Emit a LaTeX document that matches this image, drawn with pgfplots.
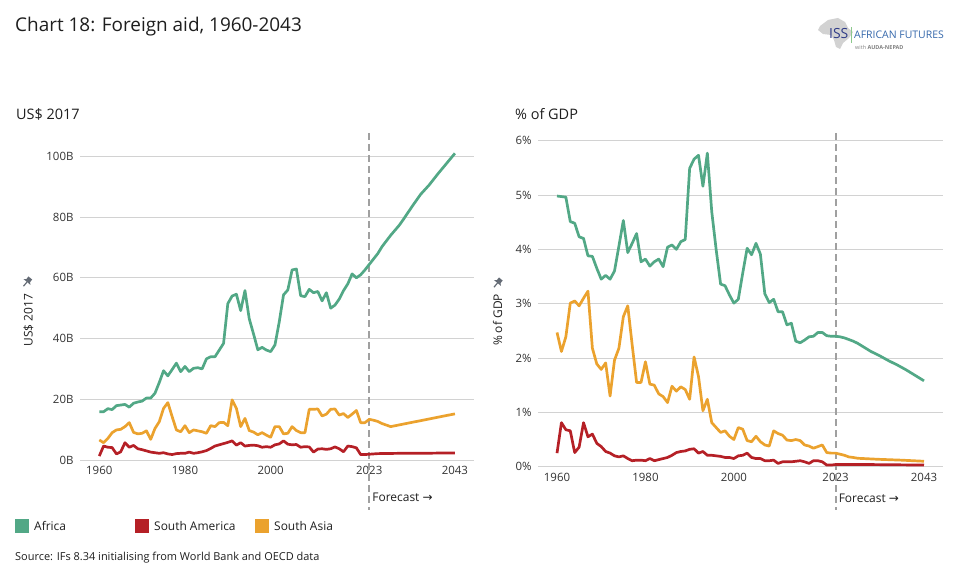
\documentclass[border=0pt]{standalone}
\usepackage{fontspec}
\setmainfont{Open Sans}
\newfontfamily\symfont{DejaVu Sans}
\usepackage{pgfplots}
\pgfplotsset{compat=1.18}
\definecolor{afr}{HTML}{52A886}
\definecolor{sam}{HTML}{B52026}
\definecolor{sas}{HTML}{EBA22E}
\definecolor{gridc}{HTML}{D2D2D2}
\definecolor{txt}{HTML}{333333}
\definecolor{ttl}{HTML}{1E1E1E}
\definecolor{dashc}{HTML}{A0A0A0}
\definecolor{pinc}{HTML}{646B75}
\definecolor{issblue}{RGB}{46,58,135}
\definecolor{afblue}{RGB}{51,102,170}
\definecolor{logogreen}{RGB}{140,200,140}
\pgfplotsset{
  base/.style={
    scale only axis, clip=false,
    axis line style={draw=none},
    ymajorgrids, major grid style={gridc, line width=0.9bp},
    tick style={draw=none}, major tick length=0pt,
    /pgf/number format/assume math mode=true,
    ticklabel style={font=\fontsize{11.5}{13}\selectfont, text=txt},
    yticklabel style={xshift=-3bp},
    xticklabel style={yshift=-3bp},
    xtick={1960,1980,2000,2023,2043},
    xticklabels={1960,1980,2000,2023,2043},
    every axis plot/.append style={line width=2.7bp, line join=round, no markers},
  }
}
\begin{document}
\begin{tikzpicture}
\path[use as bounding box] (0,0) rectangle (955bp,584bp);

% ---------------- left axis ----------------
\begin{axis}[base, at={(80bp,124bp)}, anchor=south west,
  width=394bp, height=327bp,
  xmin=1955.5, xmax=2047.45, ymin=0, ymax=107.7,
  ytick={0,20,40,60,80,100}, yticklabels={0B,20B,40B,60B,80B,100B}]
\draw[dashc, line width=1.9bp, dash pattern=on 7bp off 4bp] (axis cs:2023,107.7) -- (axis cs:2023,-16.5);
\node[anchor=west, font=\fontsize{12}{14}\selectfont, text=ttl, inner sep=0pt] at ([xshift=3bp]axis cs:2023,-12.4) {Forecast {\symfont\fontsize{12}{14}\selectfont →}};
\addplot[sam] table {
1960 1.3
1961 4.6
1962 4.2
1963 4.1
1964 2.0
1965 2.7
1966 5.7
1967 4.2
1968 4.8
1969 3.7
1970 3.4
1971 3.0
1972 2.6
1973 2.4
1974 2.2
1975 2.4
1976 2.0
1977 1.8
1978 2.1
1979 2.2
1980 2.2
1981 2.6
1982 2.2
1983 2.4
1984 2.7
1985 3.1
1986 3.8
1987 4.6
1988 5.0
1989 5.4
1990 5.8
1991 6.3
1992 4.9
1993 5.7
1994 4.6
1995 4.8
1996 4.9
1997 4.7
1998 4.2
1999 4.4
2000 4.2
2001 5.0
2002 5.3
2003 6.3
2004 5.2
2005 5.0
2006 5.1
2007 4.2
2008 4.4
2009 4.3
2010 2.6
2011 3.6
2012 3.7
2013 3.5
2014 3.7
2015 4.3
2016 3.7
2017 2.7
2018 4.6
2019 4.4
2020 4.0
2021 1.8
2022 1.8
2023 1.9
2025 2.1
2030 2.2
2035 2.2
2040 2.3
2043 2.3
};
\addplot[sas] table {
1960 6.6
1961 5.7
1962 7.1
1963 9.0
1964 9.9
1965 10.1
1966 11.0
1967 12.3
1968 9.1
1969 8.6
1970 8.8
1971 9.6
1972 6.8
1973 10.4
1974 12.6
1975 17.0
1976 18.9
1977 14.3
1978 9.9
1979 9.3
1980 11.3
1981 9.0
1982 9.9
1983 9.6
1984 9.3
1985 8.8
1986 11.3
1987 11.0
1988 12.3
1989 12.4
1990 11.3
1991 19.8
1992 17.0
1993 11.0
1994 13.7
1995 9.7
1996 9.2
1997 8.3
1998 9.0
1999 8.2
2000 7.5
2001 11.0
2002 11.0
2003 8.6
2004 8.8
2005 11.0
2006 9.7
2007 9.0
2008 9.0
2009 16.7
2010 16.7
2011 16.8
2012 14.5
2013 15.1
2014 16.7
2015 16.8
2016 14.8
2017 15.3
2018 14.0
2019 15.1
2020 16.3
2021 12.3
2022 12.3
2023 13.4
2024 13.1
2025 12.7
2026 12.0
2027 11.5
2028 11.0
2033 12.4
2038 13.8
2043 15.2
};
\addplot[afr] table {
1960 15.9
1961 15.9
1962 16.9
1963 16.6
1964 17.9
1965 18.1
1966 18.3
1967 17.4
1968 18.7
1969 19.1
1970 19.4
1971 20.4
1972 20.4
1973 22.0
1974 25.5
1975 29.4
1976 27.7
1977 29.8
1978 31.9
1979 29.1
1980 30.8
1981 29.1
1982 30.2
1983 30.4
1984 30.0
1985 33.3
1986 34.0
1987 34.0
1988 36.2
1989 38.4
1990 51.5
1991 54.0
1992 54.6
1993 49.2
1994 55.8
1995 46.5
1996 41.5
1997 36.3
1998 37.1
1999 36.2
2000 35.7
2001 37.9
2002 45.5
2003 54.4
2004 56.0
2005 62.6
2006 62.9
2007 54.1
2008 53.8
2009 56.2
2010 55.1
2011 55.5
2012 52.4
2013 55.1
2014 50.0
2015 51.0
2016 53.0
2017 55.8
2018 58.0
2019 61.3
2020 60.0
2021 61.0
2022 62.6
2023 64.4
2025 68.0
2026 70.3
2028 74.0
2030 77.3
2031 79.3
2033 83.5
2035 87.5
2037 90.6
2039 94.2
2041 97.6
2043 101.0
};
\end{axis}

% ---------------- right axis ----------------
\begin{axis}[base, at={(538bp,117.3bp)}, anchor=south west,
  width=405bp, height=333.7bp,
  xmin=1955.7, xmax=2047.3, ymin=0, ymax=6.14,
  ytick={0,1,2,3,4,5,6}, yticklabels={0\%,1\%,2\%,3\%,4\%,5\%,6\%}]
\draw[dashc, line width=1.9bp, dash pattern=on 7bp off 4bp] (axis cs:2023,6.14) -- (axis cs:2023,-0.8);
\node[anchor=west, font=\fontsize{12}{14}\selectfont, text=ttl, inner sep=0pt] at ([xshift=3bp]axis cs:2023,-0.576) {Forecast {\symfont\fontsize{12}{14}\selectfont →}};
\addplot[sam] table {
1960 0.25
1961 0.81
1962 0.68
1963 0.66
1964 0.26
1965 0.36
1966 0.81
1967 0.55
1968 0.60
1969 0.43
1970 0.37
1971 0.28
1972 0.25
1973 0.20
1974 0.18
1975 0.20
1976 0.15
1977 0.11
1978 0.12
1979 0.12
1980 0.11
1981 0.15
1982 0.11
1983 0.13
1984 0.15
1985 0.17
1986 0.21
1987 0.26
1988 0.28
1989 0.29
1990 0.32
1991 0.33
1992 0.25
1993 0.28
1994 0.21
1995 0.21
1996 0.20
1997 0.19
1998 0.17
1999 0.17
2000 0.15
2001 0.20
2002 0.21
2003 0.25
2004 0.17
2005 0.15
2006 0.15
2007 0.11
2008 0.11
2009 0.12
2010 0.06
2011 0.09
2012 0.09
2013 0.09
2014 0.10
2015 0.11
2016 0.09
2017 0.06
2018 0.11
2019 0.11
2020 0.09
2021 0.03
2022 0.03
2023 0.04
2030 0.04
2043 0.03
};
\addplot[sas] table {
1960 2.47
1961 2.12
1962 2.39
1963 3.01
1964 3.05
1965 2.96
1966 3.10
1967 3.23
1968 2.18
1969 1.89
1970 1.79
1971 1.91
1972 1.30
1973 1.96
1974 2.18
1975 2.76
1976 2.96
1977 2.24
1978 1.55
1979 1.55
1980 1.93
1981 1.52
1982 1.50
1983 1.34
1984 1.29
1985 1.18
1986 1.48
1987 1.39
1988 1.47
1989 1.42
1990 1.24
1991 2.02
1992 1.66
1993 1.03
1994 1.24
1995 0.81
1996 0.72
1997 0.63
1998 0.66
1999 0.56
2000 0.50
2001 0.72
2002 0.69
2003 0.48
2004 0.46
2005 0.56
2006 0.46
2007 0.40
2008 0.38
2009 0.66
2010 0.61
2011 0.58
2012 0.49
2013 0.48
2014 0.50
2015 0.48
2016 0.40
2017 0.38
2018 0.34
2019 0.37
2020 0.40
2021 0.26
2022 0.25
2023 0.25
2024 0.23
2025 0.21
2026 0.18
2027 0.17
2028 0.155
2033 0.135
2038 0.12
2043 0.10
};
\addplot[afr] table {
1960 4.98
1961 4.97
1962 4.96
1963 4.51
1964 4.48
1965 4.23
1966 4.20
1967 3.88
1968 3.87
1969 3.65
1970 3.45
1971 3.52
1972 3.45
1973 3.60
1974 4.06
1975 4.53
1976 3.94
1977 4.11
1978 4.29
1979 3.77
1980 3.82
1981 3.69
1982 3.77
1983 3.82
1984 3.68
1985 4.04
1986 4.08
1987 4.00
1988 4.14
1989 4.18
1990 5.49
1991 5.66
1992 5.73
1993 5.16
1994 5.77
1995 4.69
1996 3.99
1997 3.36
1998 3.33
1999 3.16
2000 3.01
2001 3.08
2002 3.56
2003 4.02
2004 3.90
2005 4.11
2006 3.91
2007 3.18
2008 3.02
2009 3.08
2010 2.85
2011 2.85
2012 2.61
2013 2.64
2014 2.31
2015 2.28
2016 2.33
2017 2.39
2018 2.40
2019 2.47
2020 2.47
2021 2.41
2022 2.40
2023 2.40
2024 2.39
2025 2.37
2026 2.34
2027 2.31
2028 2.27
2029 2.22
2030 2.17
2031 2.12
2033 2.04
2035 1.95
2037 1.87
2039 1.78
2041 1.68
2043 1.58
};
\end{axis}

% ---------------- decorations ----------------
\begin{scope}[x=1bp, y=1bp]
\node[anchor=base west, inner sep=0pt, font=\fontsize{19}{22}\selectfont, text=ttl] at (15,552.3) {Chart 18: Foreign aid, 1960-2043};
\node[anchor=base west, inner sep=0pt, font=\fontsize{14.5}{17}\selectfont, text=ttl] at (16,464) {US\$ 2017};
\node[anchor=base west, inner sep=0pt, font=\fontsize{14.5}{17}\selectfont, text=ttl] at (515,464) {\% of GDP};
\node[rotate=90, inner sep=0pt, font=\fontsize{12}{14}\selectfont, text=ttl] at (28.5,264) {US\$ 2017};
\node[rotate=90, inner sep=0pt, font=\fontsize{12}{14}\selectfont, text=ttl] at (497.5,264) {\% of GDP};
% pins
\foreach \px/\py in {27/302, 497.5/301}{
  \begin{scope}[shift={(\px,\py)}, rotate=-40]
    \fill[pinc] (-2.4,1.5) rectangle (2.4,5.2);
    \fill[pinc] (-4.6,0) -- (4.6,0) -- (2.4,1.8) -- (-2.4,1.8) -- cycle;
    \draw[pinc, line width=1.2] (0,0) -- (0,-5.5);
  \end{scope}
}
% legend
\fill[afr] (15,51) rectangle (29,65);
\node[anchor=west, inner sep=0pt, font=\fontsize{12}{14}\selectfont, text=ttl] at (34,58) {Africa};
\fill[sam] (135,51) rectangle (149,65);
\node[anchor=west, inner sep=0pt, font=\fontsize{12}{14}\selectfont, text=ttl] at (154,58) {South America};
\fill[sas] (255,51) rectangle (269,65);
\node[anchor=west, inner sep=0pt, font=\fontsize{12}{14}\selectfont, text=ttl] at (274,58) {South Asia};
\node[anchor=base west, inner sep=0pt, font=\fontsize{11}{13}\selectfont, text=ttl] at (15,24) {Source: IFs 8.34 initialising from World Bank and OECD data};
% logo
\fill[gray!35] (820,558) -- (828,564) -- (838,566) -- (845,562) -- (848,556) -- (853,552) -- (849,546) -- (843,541) -- (840,535) -- (836,537) -- (834,544) -- (831,549) -- (823,550) -- (818,554) -- cycle;
\node[anchor=base west, inner sep=0pt, font=\fontsize{14}{16}\selectfont, text=issblue] at (829,545) {ISS};
\fill[logogreen] (851,541) rectangle (852.2,557);
\node[anchor=base west, inner sep=0pt, font=\fontsize{10.5}{12}\selectfont, text=afblue] at (854,545.7) {AFRICAN FUTURES};
\node[anchor=base west, inner sep=0pt, font=\fontsize{5.5}{6}\selectfont, text=gray] at (855,534) {with \textbf{AUDA-NEPAD}};
\end{scope}
\end{tikzpicture}
\end{document}
